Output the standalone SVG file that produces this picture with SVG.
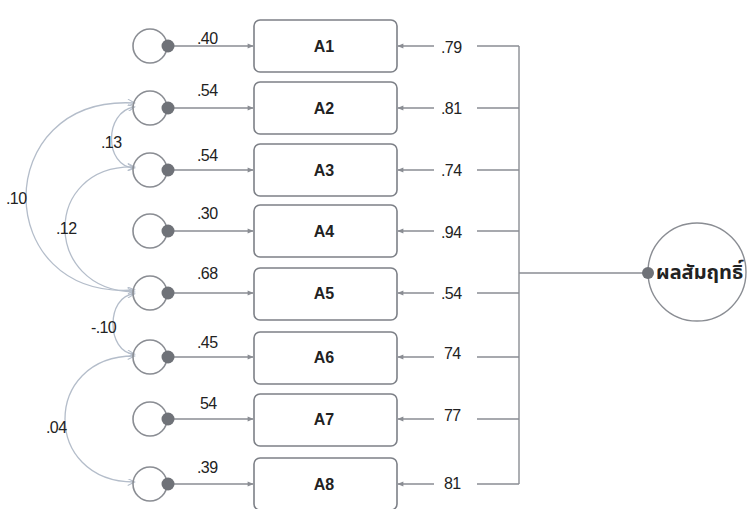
<svg xmlns="http://www.w3.org/2000/svg" width="747" height="509" viewBox="0 0 747 509">
<style>
.bg{fill:#ffffff}
.box{fill:#ffffff;stroke:#7d8087;stroke-width:1.6}
.bl{font-family:"Liberation Sans",Arial,sans-serif;font-weight:bold;font-size:16px;fill:#222;text-anchor:middle}
.lab{font-family:"Liberation Sans",Arial,sans-serif;font-size:16px;fill:#222;letter-spacing:-0.6px}
.err{fill:none;stroke:#8a8d93;stroke-width:1.6}
.dot{fill:#6f7278}
.ln{fill:none;stroke:#8a8d93;stroke-width:1.4}
.cov{fill:none;stroke:#b4bdca;stroke-width:1.3}
.lat{fill:#ffffff;stroke:#8a8d93;stroke-width:1.4}
.th{font-family:"Noto Sans Thai","Noto Sans","DejaVu Sans",sans-serif;font-weight:bold;font-size:20px;fill:#222}
</style>
<defs>
<marker id="ah" viewBox="0 0 10 10" refX="9" refY="5" markerWidth="8" markerHeight="6" orient="auto" markerUnits="userSpaceOnUse">
<path d="M0,1 L10,5 L0,9 z" fill="#8a8d93"/>
</marker>
<marker id="ch" viewBox="0 0 10 10" refX="9" refY="5" markerWidth="9" markerHeight="7" orient="auto-start-reverse" markerUnits="userSpaceOnUse">
<path d="M0,0 L10,5 L0,10" fill="none" stroke="#b4bdca" stroke-width="1.5"/>
</marker>
</defs>
<rect class="bg" x="0" y="0" width="747" height="509"/>

<g id="connectors">
<line class="ln" x1="170" y1="46" x2="253" y2="46" marker-end="url(#ah)"/>
<line class="ln" x1="170" y1="108" x2="253" y2="108" marker-end="url(#ah)"/>
<line class="ln" x1="170" y1="170" x2="253" y2="170" marker-end="url(#ah)"/>
<line class="ln" x1="170" y1="231" x2="253" y2="231" marker-end="url(#ah)"/>
<line class="ln" x1="170" y1="293" x2="253" y2="293" marker-end="url(#ah)"/>
<line class="ln" x1="170" y1="357" x2="253" y2="357" marker-end="url(#ah)"/>
<line class="ln" x1="170" y1="419" x2="253" y2="419" marker-end="url(#ah)"/>
<line class="ln" x1="170" y1="484" x2="253" y2="484" marker-end="url(#ah)"/>
<line class="ln" x1="519" y1="46" x2="519" y2="484"/>
<line class="ln" x1="519" y1="273" x2="648" y2="273"/>
<g>
<line class="ln" x1="434" y1="46" x2="398" y2="46" marker-end="url(#ah)"/><line class="ln" x1="477" y1="46" x2="519" y2="46"/>
<line class="ln" x1="434" y1="108" x2="398" y2="108" marker-end="url(#ah)"/><line class="ln" x1="477" y1="108" x2="519" y2="108"/>
<line class="ln" x1="434" y1="170" x2="398" y2="170" marker-end="url(#ah)"/><line class="ln" x1="477" y1="170" x2="519" y2="170"/>
<line class="ln" x1="434" y1="231" x2="398" y2="231" marker-end="url(#ah)"/><line class="ln" x1="477" y1="231" x2="519" y2="231"/>
<line class="ln" x1="434" y1="293" x2="398" y2="293" marker-end="url(#ah)"/><line class="ln" x1="477" y1="293" x2="519" y2="293"/>
<line class="ln" x1="434" y1="357" x2="398" y2="357" marker-end="url(#ah)"/><line class="ln" x1="477" y1="357" x2="519" y2="357"/>
<line class="ln" x1="434" y1="419" x2="398" y2="419" marker-end="url(#ah)"/><line class="ln" x1="477" y1="419" x2="519" y2="419"/>
<line class="ln" x1="434" y1="484" x2="398" y2="484" marker-end="url(#ah)"/><line class="ln" x1="477" y1="484" x2="519" y2="484"/>
</g>
<path class="cov" d="M134,103 C-10,95 -10,300 134,290" marker-start="url(#ch)" marker-end="url(#ch)"/>
<path class="cov" d="M134,107 C104,112 104,166 134,168" marker-start="url(#ch)" marker-end="url(#ch)"/>
<path class="cov" d="M134,167 C42,165 42,290 134,292" marker-start="url(#ch)" marker-end="url(#ch)"/>
<path class="cov" d="M134,294 C106,296 106,352 134,354" marker-start="url(#ch)" marker-end="url(#ch)"/>
<path class="cov" d="M134,356 C42,356 42,482 134,482" marker-start="url(#ch)" marker-end="url(#ch)"/>
</g>

<g id="e1"><circle class="err" cx="150" cy="46" r="17"/><circle class="dot" cx="168" cy="46" r="6.5"/></g>
<g id="e2"><circle class="err" cx="150" cy="108" r="17"/><circle class="dot" cx="168" cy="108" r="6.5"/></g>
<g id="e3"><circle class="err" cx="150" cy="170" r="17"/><circle class="dot" cx="168" cy="170" r="6.5"/></g>
<g id="e4"><circle class="err" cx="150" cy="231" r="17"/><circle class="dot" cx="168" cy="231" r="6.5"/></g>
<g id="e5"><circle class="err" cx="150" cy="293" r="17"/><circle class="dot" cx="168" cy="293" r="6.5"/></g>
<g id="e6"><circle class="err" cx="150" cy="357" r="17"/><circle class="dot" cx="168" cy="357" r="6.5"/></g>
<g id="e7"><circle class="err" cx="150" cy="419" r="17"/><circle class="dot" cx="168" cy="419" r="6.5"/></g>
<g id="e8"><circle class="err" cx="150" cy="484" r="17"/><circle class="dot" cx="168" cy="484" r="6.5"/></g>

<g id="A1"><rect class="box" x="254" y="20" width="143" height="52" rx="6"/><text class="bl" x="324" y="52">A1</text></g>
<g id="A2"><rect class="box" x="254" y="82" width="143" height="52" rx="6"/><text class="bl" x="324" y="114">A2</text></g>
<g id="A3"><rect class="box" x="254" y="144" width="143" height="52" rx="6"/><text class="bl" x="324" y="176">A3</text></g>
<g id="A4"><rect class="box" x="254" y="205" width="143" height="52" rx="6"/><text class="bl" x="324" y="237">A4</text></g>
<g id="A5"><rect class="box" x="254" y="268" width="143" height="52" rx="6"/><text class="bl" x="324" y="299">A5</text></g>
<g id="A6"><rect class="box" x="254" y="332" width="143" height="52" rx="6"/><text class="bl" x="324" y="363">A6</text></g>
<g id="A7"><rect class="box" x="254" y="394" width="143" height="52" rx="6"/><text class="bl" x="324" y="425">A7</text></g>
<g id="A8"><rect class="box" x="254" y="458" width="143" height="52" rx="6"/><text class="bl" x="324" y="490">A8</text></g>

<g id="latent"><circle class="lat" cx="697" cy="272" r="49"/><circle class="dot" cx="648" cy="273" r="6"/><text class="th" x="656" y="279">ผลสัมฤทธิ์</text></g>

<g id="labels">
<text class="lab" x="197" y="44">.40</text>
<text class="lab" x="197" y="96">.54</text>
<text class="lab" x="197" y="161">.54</text>
<text class="lab" x="197" y="219">.30</text>
<text class="lab" x="197" y="279">.68</text>
<text class="lab" x="197" y="348">.45</text>
<text class="lab" x="200" y="409">54</text>
<text class="lab" x="197" y="473">.39</text>
<text class="lab" x="441" y="53">.79</text>
<text class="lab" x="441" y="114">.81</text>
<text class="lab" x="441" y="176">.74</text>
<text class="lab" x="441" y="238">.94</text>
<text class="lab" x="441" y="299">.54</text>
<text class="lab" x="444" y="359">74</text>
<text class="lab" x="444" y="421">77</text>
<text class="lab" x="444" y="489">81</text>
<text class="lab" x="101" y="148">.13</text>
<text class="lab" x="6" y="204">.10</text>
<text class="lab" x="56" y="234">.12</text>
<text class="lab" x="91" y="333">-.10</text>
<text class="lab" x="46" y="433">.04</text>
</g>
</svg>
